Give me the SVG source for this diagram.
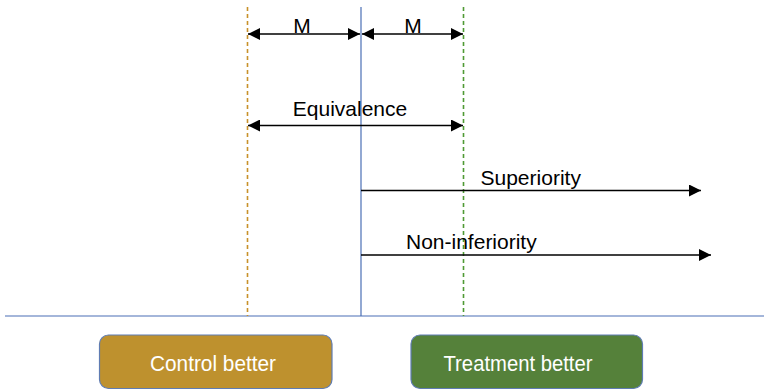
<svg xmlns="http://www.w3.org/2000/svg" width="764" height="390" viewBox="0 0 764 390">
  <style>
    .lbl { font-family: "Liberation Sans", Arial, sans-serif; font-size: 21px; fill: #000; }
    .box-lbl { font-family: "Liberation Sans", Arial, sans-serif; font-size: 22px; fill: #fff; text-anchor: middle; }
    .arrow { stroke: #000; stroke-width: 1.6; fill: none; }
    .guide { stroke-width: 1.6; stroke-dasharray: 4 3; fill: none; }
  </style>
  <defs>
    <marker id="head" markerUnits="userSpaceOnUse" markerWidth="12" markerHeight="12" refX="12" refY="6" orient="auto-start-reverse">
      <path d="M0,0 L12,6 L0,12 z" fill="#000"/>
    </marker>
  </defs>

  <rect width="764" height="390" fill="#fff"/>

  <!-- reference axes -->
  <g id="axes">
    <line x1="5" y1="316" x2="764" y2="316" stroke="#4a6fb5" stroke-width="1.2"/>
    <line x1="361" y1="7" x2="361" y2="316" stroke="#4a6fb5" stroke-width="1.2"/>
    <line class="guide" x1="247.5" y1="7" x2="247.5" y2="316" stroke="#c8912a"/>
    <line class="guide" x1="463.5" y1="7" x2="463.5" y2="316" stroke="#4f9a34"/>
  </g>

  <!-- margin and hypothesis arrows -->
  <g id="connectors">
    <line class="arrow" x1="248" y1="34" x2="360" y2="34" marker-start="url(#head)" marker-end="url(#head)"/>
    <line class="arrow" x1="362" y1="34" x2="463" y2="34" marker-start="url(#head)" marker-end="url(#head)"/>
    <line class="arrow" x1="248" y1="125.5" x2="463" y2="125.5" marker-start="url(#head)" marker-end="url(#head)"/>
    <line class="arrow" x1="361" y1="190.5" x2="701" y2="190.5" marker-end="url(#head)"/>
    <line class="arrow" x1="361" y1="255" x2="711" y2="255" marker-end="url(#head)"/>
  </g>

  <g id="labels">
    <text class="lbl" x="302" y="33" text-anchor="middle">M</text>
    <text class="lbl" x="413" y="33" text-anchor="middle">M</text>
    <text class="lbl" x="350" y="116" text-anchor="middle">Equivalence</text>
    <text class="lbl" x="480.5" y="185">Superiority</text>
    <text class="lbl" x="406" y="249">Non-inferiority</text>
  </g>

  <g id="control-better">
    <rect x="99.5" y="335" width="232.5" height="53.5" rx="9" fill="#be912e" stroke="#5f7cb3" stroke-width="1.2"/>
    <text class="box-lbl" x="213" y="371" textLength="126" lengthAdjust="spacingAndGlyphs">Control better</text>
  </g>

  <g id="treatment-better">
    <rect x="411" y="335" width="231.5" height="53.5" rx="9" fill="#55813a" stroke="#5f7cb3" stroke-width="1.2"/>
    <text class="box-lbl" x="518" y="371" textLength="149" lengthAdjust="spacingAndGlyphs">Treatment better</text>
  </g>
</svg>
